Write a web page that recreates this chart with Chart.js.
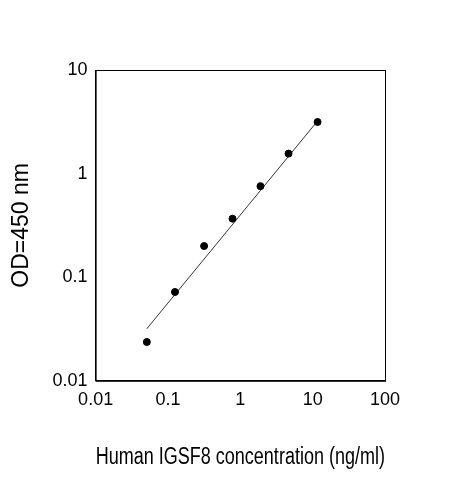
<!DOCTYPE html>
<html>
<head>
<script src="https://cdn.jsdelivr.net/npm/chart.js@4"></script>
<style>
  body { margin: 0; background: #fff; }
  #wrap { width: 463px; height: 480px; }
</style>
</head>
<body>
<div id="wrap"><canvas id="c"></canvas></div>
<script>
// ========== DATA ==========
const concentrations = [0.051, 0.125, 0.316, 0.78, 1.9, 4.64, 11.7];
const odValues = [0.0237, 0.072, 0.2, 0.367, 0.757, 1.56, 3.15];
const fitX = [0.051, 11.7];
const fitY = [0.0318, 3.22];
const decadeTicksX = [0.01, 0.1, 1, 10, 100];
const decadeTicksY = [0.01, 0.1, 1, 10];

const FONT = 'Liberation Sans, Arial, sans-serif';

// box around plot area
const boxPlugin = {
    id: 'box',
    afterDraw(chart) {
        const a = chart.chartArea, ctx = chart.ctx;
        ctx.save();
        ctx.strokeStyle = '#000';
        ctx.lineWidth = 1;
        ctx.strokeRect(a.left + 0.5, a.top + 0.5, a.right - a.left, a.bottom - a.top);
        ctx.restore();
    }
};

function axis(ticksList, min, max, title, titlePad) {
    return {
        type: 'logarithmic',
        min, max,
        afterBuildTicks: ax => { ax.ticks = ticksList.map(v => ({ value: v })); },
        grid: { display: false, drawTicks: true, tickLength: 5, tickColor: '#000' },
        border: { color: '#000' },
        ticks: { color: '#000', font: { family: FONT, size: 18 }, callback: v => String(v), autoSkip: false, maxRotation: 0 },
        title: { display: true, text: title, color: '#000', font: { family: FONT, size: 23 }, padding: titlePad }
    };
}

new Chart(document.getElementById('c'), {
    type: 'scatter',
    data: {
        datasets: [
            {
                data: concentrations.map((x, i) => ({ x, y: odValues[i] })),
                backgroundColor: '#000', borderColor: '#000', pointRadius: 3.5
            },
            {
                data: fitX.map((x, i) => ({ x, y: fitY[i] })),
                showLine: true, borderColor: '#000', borderWidth: 0.8, pointRadius: 0
            }
        ]
    },
    options: {
        responsive: true,
        maintainAspectRatio: false,
        animation: false,
        layout: { padding: { top: 70, right: 78, left: 4, bottom: 5 } },
        plugins: { legend: { display: false }, tooltip: { enabled: false } },
        scales: {
            x: axis(decadeTicksX, 0.01, 100, 'Human IGSF8 concentration (ng/ml)', { top: 30, bottom: 4 }),
            y: axis(decadeTicksY, 0.01, 10, 'OD=450 nm', { top: 4, bottom: 14 })
        }
    },
    plugins: [boxPlugin]
});
</script>
</body>
</html>
